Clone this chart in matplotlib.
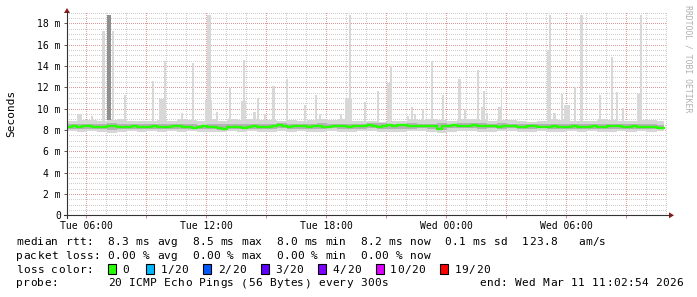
import matplotlib
matplotlib.use("Agg")
import matplotlib.pyplot as plt
from matplotlib.lines import Line2D
from matplotlib.patches import Polygon, Rectangle
from datetime import datetime, timedelta

W, H = 697, 297
START = datetime(2026, 3, 10, 5, 2, 54)
END = datetime(2026, 3, 11, 11, 2, 54)
SPAN_MIN = 1800          # graph span in minutes
DATA_END_MIN = 1791      # last data point (minutes after START)

# ---------------- data (ms) ----------------
median_step_min = 15
median_ms = [8.30, 8.34, 8.26, 8.33, 8.37, 8.30, 8.25, 8.32, 8.38, 8.34,
             8.28, 8.25, 8.31, 8.35, 8.27, 8.24, 8.30, 8.36, 8.32, 8.26,
             8.30, 8.35, 8.38, 8.31, 8.26, 8.23, 8.30, 8.36, 8.31, 8.25,
             8.22, 8.05, 8.24, 8.30, 8.27, 8.23, 8.29, 8.35, 8.30, 8.25,
             8.31, 8.37, 8.42, 8.33, 8.28, 8.35, 8.40, 8.35, 8.30, 8.34,
             8.38, 8.32, 8.28, 8.35, 8.39, 8.33, 8.28, 8.36, 8.40, 8.34,
             8.42, 8.36, 8.31, 8.39, 8.44, 8.37, 8.50, 8.42, 8.35, 8.41,
             8.38, 8.33, 8.40, 8.36, 8.05, 8.33, 8.39, 8.42, 8.37, 8.33,
             8.40, 8.44, 8.38, 8.33, 8.41, 8.37, 8.31, 8.36, 8.40, 8.34,
             8.31, 8.28, 8.35, 8.38, 8.32, 8.27, 8.31, 8.36, 8.32, 8.26,
             8.30, 8.35, 8.28, 8.24, 8.30, 8.36, 8.31, 8.26, 8.33, 8.37,
             8.33, 8.27, 8.31, 8.36, 8.29, 8.25, 8.29, 8.24, 8.22, 8.20]

smoke_step_min = 30
smoke_hi_ms = [8.85, 8.9, 8.9, 8.8, 8.9, 9.0, 8.8, 8.85, 8.8, 8.9,
               8.8, 9.0, 8.9, 8.8, 9.0, 8.85, 9.0, 8.9, 9.0, 8.9,
               8.9, 8.8, 8.9, 8.85, 8.9, 9.0, 8.9, 9.0, 8.85, 8.8,
               8.8, 8.75, 8.8, 8.85, 9.0, 8.9, 9.0, 8.9, 8.85, 9.0,
               9.0, 8.95, 8.85, 8.95, 8.9, 8.8, 8.75, 8.8, 9.0, 8.95,
               8.85, 8.8, 8.8, 9.0, 8.95, 8.85, 8.85, 8.9, 8.95, 8.85]
smoke_mid_hi_ms = [8.55, 8.58, 8.53, 8.59, 8.63, 8.56, 8.53, 8.57, 8.54, 8.59,
                   8.53, 8.58, 8.55, 8.51, 8.56, 8.53, 8.57, 8.54, 8.59, 8.55,
                   8.58, 8.61, 8.57, 8.55, 8.59, 8.62, 8.58, 8.55, 8.59, 8.57,
                   8.61, 8.63, 8.59, 8.57, 8.63, 8.60, 8.58, 8.62, 8.59, 8.65,
                   8.63, 8.61, 8.59, 8.62, 8.58, 8.55, 8.57, 8.54, 8.59, 8.56,
                   8.53, 8.56, 8.54, 8.57, 8.55, 8.53, 8.56, 8.54, 8.52, 8.51]
smoke_mid_lo_ms = [8.12, 8.09, 8.11, 8.06, 8.02, 8.10, 8.13, 8.09, 8.12, 8.08,
                   8.10, 8.07, 8.11, 8.09, 8.12, 8.02, 8.10, 8.08, 8.12, 8.09,
                   8.13, 8.14, 8.11, 8.12, 8.09, 8.13, 8.15, 8.12, 8.10, 8.13,
                   8.14, 8.12, 8.11, 8.07, 8.13, 8.15, 8.12, 8.02, 8.14, 8.16,
                   8.14, 8.12, 8.15, 8.13, 8.16, 8.12, 8.11, 8.14, 8.10, 8.09,
                   8.11, 8.08, 8.12, 8.10, 8.08, 8.11, 8.09, 8.12, 8.08, 8.07]
smoke_lo_ms = [7.88, 7.85, 7.86, 7.80, 7.72, 7.84, 7.87, 7.85, 7.88, 7.83,
               7.86, 7.84, 7.87, 7.82, 7.85, 7.80, 7.86, 7.84, 7.88, 7.85,
               7.83, 7.87, 7.85, 7.86, 7.82, 7.84, 7.88, 7.85, 7.83, 7.86,
               7.87, 7.85, 7.84, 7.80, 7.86, 7.88, 7.85, 7.75, 7.84, 7.86,
               7.87, 7.85, 7.83, 7.86, 7.88, 7.84, 7.85, 7.87, 7.82, 7.85,
               7.86, 7.84, 7.87, 7.85, 7.83, 7.86, 7.84, 7.87, 7.85, 7.86]

# outlier pings (minutes after START, width in minutes, top in ms, dark=1)
spike_start_min = [30, 72, 105, 118.5, 133.5, 171, 253.5, 276, 291, 342, 373.5,
                   414, 420, 447, 486, 522, 528, 558, 568.5, 591, 615, 655.5,
                   709.5, 742.5, 756, 819, 834, 844.5, 891, 930, 958.5, 967.5,
                   1018.5, 1030.5, 1041, 1063.5, 1090.5, 1123.5, 1173, 1191,
                   1228.5, 1240.5, 1246.5, 1257, 1293, 1300.5, 1438.5, 1444.5,
                   1458, 1480.5, 1491, 1519.5, 1537.5, 1594.5, 1630.5, 1645.5,
                   1663.5, 1708.5, 1717.5]
spike_width_min = [15, 6, 7.5, 12, 7.5, 6, 7.5, 15, 6, 6, 7.5,
                   21, 12, 6, 6, 15, 6, 9, 6, 6, 7.5, 6,
                   6, 6, 6, 6, 21, 7.5, 6, 6, 12, 6,
                   6, 6, 6, 6, 6, 6, 9, 6,
                   6, 12, 6, 6, 12, 4.5, 10.5, 7.5,
                   9, 6, 18, 6, 9, 6, 6, 6,
                   6, 12, 6]
spike_top_ms = [9.5, 9.3, 17.3, 18.8, 17.3, 11.3, 12.6, 10.9, 14.5, 9.6, 14.3,
                10.8, 18.8, 9.7, 11.9, 10.7, 14.6, 9.7, 11.0, 9.5, 12.1, 12.8,
                10.3, 11.3, 9.5, 9.5, 11.0, 18.8, 10.6, 11.7, 12.4, 14.0,
                9.3, 10.2, 9.5, 10.0, 14.5, 11.3, 12.75, 10.0,
                13.6, 10.2, 11.7, 9.6, 10.2, 12.06, 15.5, 18.8,
                9.6, 11.4, 10.3, 12.06, 18.8, 11.3, 14.8, 11.6,
                10.1, 11.4, 18.8]
spike_dark = [0, 0, 0, 1, 0, 0, 0, 0, 0, 0, 0,
              0, 0, 0, 0, 0, 0, 0, 0, 0, 0, 0,
              0, 0, 0, 0, 0, 0, 0, 0, 0, 0,
              0, 0, 0, 0, 0, 0, 0, 0,
              0, 0, 0, 0, 0, 0, 0, 0,
              0, 0, 0, 0, 0, 0, 0, 0,
              0, 0, 0]

y_major_ms = [0, 2, 4, 6, 8, 10, 12, 14, 16, 18]
y_major_labels = ["0", "2 m", "4 m", "6 m", "8 m", "10 m", "12 m", "14 m", "16 m", "18 m"]

legend_rows = ["median rtt:  8.3 ms avg  8.5 ms max  8.0 ms min  8.2 ms now  0.1 ms sd  123.8   am/s",
               "packet loss: 0.00 % avg  0.00 % max  0.00 % min  0.00 % now",
               "loss color:",
               "probe:       20 ICMP Echo Pings (56 Bytes) every 300s"]
end_text = "end: Wed Mar 11 11:02:54 2026"
loss_labels = ["0", "1/20", "2/20", "3/20", "4/20", "10/20", "19/20"]
loss_colors = ["#26ff00", "#00b8ff", "#0059ff", "#5e00ff", "#7e00ff", "#dd00ff", "#ff0000"]

# ---------------- helpers ----------------
MONO = "DejaVu Sans Mono"


def fx(px):
    return px / W


def fy(py):
    return 1 - py / H


def step_xy(step, vals):
    xs = [i * step for i in range(len(vals))] + [DATA_END_MIN]
    ys = list(vals) + [vals[-1]]
    return xs, ys


fig = plt.figure(figsize=(W / 100, H / 100), dpi=100)
fig.patch.set_facecolor("white")

AX_L, AX_R, AX_B, AX_T = 67, 667, 215.3, 12
PX_PER_MS = 192 / 18.0
ax = fig.add_axes([fx(AX_L), fy(AX_B), (AX_R - AX_L) / W, (AX_B - AX_T) / H])
ax.set_facecolor("white")
ax.set_xlim(0, SPAN_MIN)
ax.set_ylim(0, (AX_B - AX_T) / PX_PER_MS)
for s in ax.spines.values():
    s.set_visible(False)

# smoke: outliers
for x0, w, top, dk in zip(spike_start_min, spike_width_min, spike_top_ms, spike_dark):
    ax.bar(x0, top - 8.0, width=w, bottom=8.0, align="edge",
           color="#8f8f8f" if dk else "#d8d8d8", linewidth=0, zorder=1.5)

xs, hi = step_xy(smoke_step_min, smoke_hi_ms)
_, lo = step_xy(smoke_step_min, smoke_lo_ms)
_, mhi = step_xy(smoke_step_min, smoke_mid_hi_ms)
_, mlo = step_xy(smoke_step_min, smoke_mid_lo_ms)
ax.fill_between(xs, lo, hi, step="post", color="#d6d6d6", linewidth=0, zorder=2)
ax.fill_between(xs, mlo, mhi, step="post", color="#b3b3b3", linewidth=0, zorder=2.1)

# grid (1px dots, behind the smoke)
minor_col = "#cfcfcf"
major_col = "#e09a9a"
dots = (0, (1, 2))
gkw = dict(lw=0.72, ls=dots, antialiased=False, snap=True)
v = 0.5
while v < ax.get_ylim()[1]:
    if abs(v / 2 - round(v / 2)) > 1e-6:
        ax.axhline(v, color=minor_col, zorder=1, **gkw)
    v += 0.5
for yv in y_major_ms[1:]:
    ax.axhline(yv, color=major_col, zorder=1.1, **gkw)

hour = START.replace(minute=0, second=0) + timedelta(hours=1)
major_x, major_lab = [], []
while hour < END:
    m = (hour - START).total_seconds() / 60
    if hour.hour % 3 == 0:
        ax.axvline(m, color=major_col, zorder=1.1, **gkw)
        major_x.append(m)
        major_lab.append(hour.strftime("%a %H:%M") if hour.hour % 6 == 0 else "")
    else:
        ax.axvline(m, color=minor_col, zorder=1, **gkw)
    hour += timedelta(hours=1)

# median line
mx, my = step_xy(median_step_min, median_ms)
ax.step(mx, my, where="post", color="#26ff00", lw=1.7, zorder=4)

# ticks
ax.set_yticks(y_major_ms)
ax.set_yticklabels(y_major_labels, family=MONO, size=7)
ax.set_xticks(major_x)
ax.set_xticklabels(major_lab, family=MONO, size=7)
ax.tick_params(axis="y", length=2.3, width=0.7, color="#555555", pad=2.2)
ax.tick_params(axis="x", length=2.3, width=0.7, color="#c09090", pad=2.0)

# axes + arrows
axis_col = "#333333"
fig.add_artist(Line2D([fx(67), fx(67)], [fy(218), fy(12)], color=axis_col, lw=0.8))
fig.add_artist(Line2D([fx(64), fx(670)], [fy(215.3), fy(215.3)], color=axis_col, lw=0.8))
arrow_col = "#8b1a1a"
fig.add_artist(Polygon([[fx(67), fy(8)], [fx(64), fy(13)], [fx(70), fy(13)]],
                       closed=True, color=arrow_col, lw=0))
fig.add_artist(Polygon([[fx(674), fy(215.3)], [fx(669), fy(212.3)], [fx(669), fy(218.3)]],
                       closed=True, color=arrow_col, lw=0))

# titles
fig.text(fx(11), fy(113.5), "Seconds", rotation=90, ha="center", va="center",
         family=MONO, size=8, color="#000000")
fig.text(fx(688), fy(5), "RRDTOOL / TOBI OETIKER", rotation=270, ha="center", va="top",
         family=MONO, size=5.9, color="#b0b0b0")

# legend (monospaced grid)
CW = 7.02
X0 = 16.4
baselines = [244.7, 258.7, 272.7, 286.5]


def put(col, row_y, s):
    for i, ch in enumerate(s):
        if ch != " ":
            fig.text(fx(X0 + CW * (col + i)), fy(row_y), ch, ha="left", va="baseline",
                     family=MONO, size=8, color="#000000")


for r, s in enumerate(legend_rows):
    put(0, baselines[r], s)
put(66, baselines[3], end_text)

box_x = [108.3, 146.0, 203.3, 260.8, 318.3, 375.8, 440.3]
for bx, lab, col in zip(box_x, loss_labels, loss_colors):
    fig.add_artist(Rectangle((fx(bx), fy(273.7)), 7.7 / W, 10 / H, facecolor=col,
                             edgecolor="black", lw=0.8))
    lx = bx + 14.4
    for i, ch in enumerate(lab):
        fig.text(fx(lx + CW * i), fy(baselines[2]), ch, ha="left", va="baseline",
                 family=MONO, size=8, color="#000000")

fig.savefig("out.png", dpi=100, facecolor="white")
